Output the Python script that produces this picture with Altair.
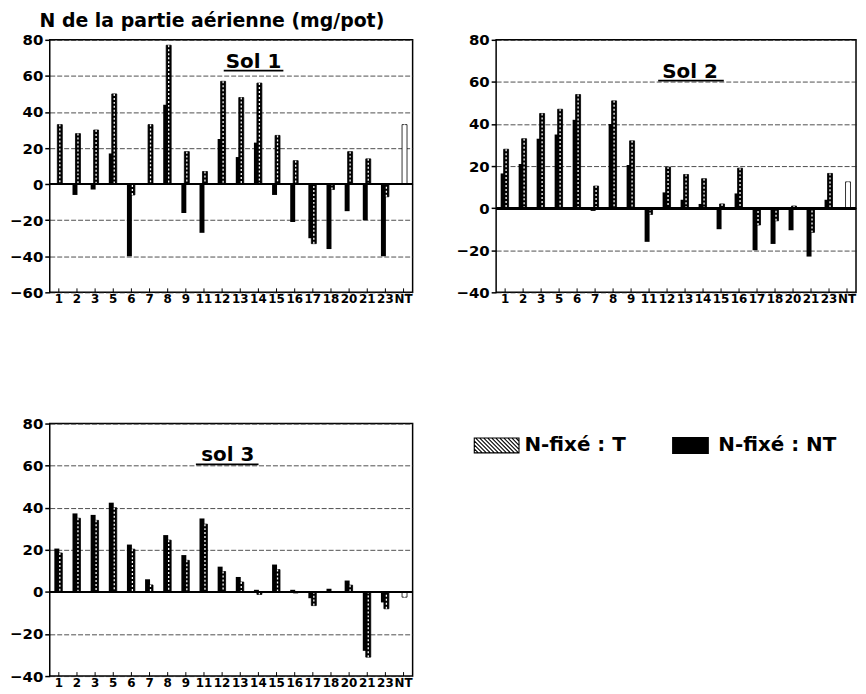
import altair as alt
import pandas as pd

categories = ["1", "2", "3", "5", "6", "7", "8", "9", "11", "12", "13", "14",
              "15", "16", "17", "18", "20", "21", "23", "NT"]

sol1_T = [33, 28, 30, 50, -6, 33, 77, 18, 7, 57, 48, 56, 27, 13, -33, -3, 18, 14, -7, 33]
sol1_NT = [0, -6, -3, 17, -40, 0, 44, -16, -27, 25, 15, 23, -6, -21, -30, -36, -15, -20, -40, 0]

sol2_T = [28, 33, 45, 47, 54, 10.5, 51, 32, -3, 19.5, 16, 14, 2, 19, -8, -6, 1, -11.5, 16.5, 12.5]
sol2_NT = [16.5, 21, 33, 35, 42, -1.3, 40, 20.5, -16, 7.5, 4, 2, -10, 7, -20, -17, -10.5, -23, 4, 0]

sol3_T = [18.5, 35, 34, 40, 20.3, 3.3, 24.6, 15, 32.2, 9.7, 4.7, -1.2, 10.6, -0.5, -6.5, 0, 3.2, -31, -8, -2.5]
sol3_NT = [20.6, 37.3, 36.6, 42.4, 22.5, 6, 27, 17.5, 34.9, 12, 7.1, 1, 13, 1, -3, 1.5, 5.4, -28, -5, 0]

legend_labels = ["N-fixé : T", "N-fixé : NT"]
main_title = "N de la partie aérienne (mg/pot)"

FONT = "DejaVu Sans"
W, H = 365, 254


def panel(T, NT, title, ymin, width, tx, ty, ux1, ux2):
    df = pd.DataFrame({"cat": categories, "T": T, "NT": NT, "zero": [0] * len(categories)})
    x = alt.X("cat:N", sort=categories,
              scale=alt.Scale(type="band", paddingInner=0, paddingOuter=0),
              axis=alt.Axis(title=None, labelAngle=0, ticks=False, domain=False, grid=False,
                            labelFont=FONT, labelFontSize=12, labelFontWeight="bold",
                            labelPadding=1, labelOverlap=False, labelColor="black"))
    yscale = alt.Scale(domain=[ymin, 80], nice=False)
    yaxis = alt.Axis(values=list(range(ymin, 81, 20)), title=None, grid=True,
                     gridColor="#222", gridDash=[5, 2], gridWidth=1, gridOpacity=0.8,
                     tickSize=5, tickColor="black", tickWidth=1.5, domain=False,
                     labelFont=FONT, labelFontSize=15, labelFontWeight="bold",
                     labelPadding=2, labelColor="black", labelOverlap=False,
                     labelFlush=False)
    base = alt.Chart(df)
    nt = base.mark_bar(width=5, xOffset=-2, color="black").encode(
        x=x, y=alt.Y("NT:Q", scale=yscale, axis=yaxis), y2=alt.Y2("zero"))
    tb = base.mark_bar(width=5, xOffset=1, stroke="black", strokeWidth=0.8).encode(
        x=x, y=alt.Y("T:Q", scale=yscale, axis=yaxis), y2=alt.Y2("zero"),
        fill=alt.condition(alt.datum.cat == "NT", alt.value("white"), alt.value("black")))
    dash = base.mark_rule(xOffset=1, color="white", strokeDash=[2, 2], strokeWidth=1.3).encode(
        x=x, y=alt.Y("T:Q", scale=yscale, axis=yaxis), y2=alt.Y2("zero"))
    zero = base.mark_rule(color="black", strokeWidth=2).encode(
        y=alt.Y(datum=0, scale=yscale, axis=yaxis))
    ticks = base.mark_rule(color="black", strokeWidth=1).encode(
        x=x, y=alt.value(H), y2=alt.value(H - 4))
    tdf = pd.DataFrame({"t": [title]})
    ttxt = alt.Chart(tdf).mark_text(font=FONT, fontSize=20, fontWeight="bold", align="center",
                                    baseline="alphabetic", color="black").encode(
        text="t:N", x=alt.value(tx), y=alt.value(ty))
    ul = alt.Chart(tdf).mark_rule(color="black", strokeWidth=1.8).encode(
        x=alt.value(ux1), x2=alt.value(ux2), y=alt.value(ty + 3))
    return alt.layer(nt, tb, dash, zero, ticks, ttxt, ul).properties(width=width, height=H)


p1 = panel(sol1_T, sol1_NT, "Sol 1", -60, W, 205, 28, 175, 235)
p2 = panel(sol2_T, sol2_NT, "Sol 2", -40, 362, 195, 38, 163, 229)
p3 = panel(sol3_T, sol3_NT, "sol 3", -40, W, 179, 38, 147, 210)


def hatch_path(h, step):
    parts = ["M-1,%.3fL1,%.3fL1,%.3fL-1,%.3fZ" % (-h, -h, h, h)]
    c = -1 - 2 * h
    while c < 1:
        y0 = max(-h, -1 - c - h)
        y1 = min(h, 1 - c - h)
        if y1 > y0:
            parts.append("M%.3f,%.3fL%.3f,%.3f" % (c + y0 + h, y0, c + y1 + h, y1))
        c += step
    return "".join(parts)


ldf = pd.DataFrame({"label": legend_labels})
lx = alt.X("label:N", sort=legend_labels, axis=None, scale=alt.Scale(type="point", padding=0.177))
sw_t = alt.Chart(ldf).transform_filter(alt.datum.label == legend_labels[0]).mark_point(
    shape=hatch_path(0.333, 0.18), size=2025, filled=False, color="black",
    strokeWidth=1.1, opacity=1).encode(x=lx)
sw_nt = alt.Chart(ldf).transform_filter(alt.datum.label == legend_labels[1]).mark_point(
    shape="M-1,-0.46L1,-0.46L1,0.46L-1,0.46Z", size=1369, filled=True, color="black",
    opacity=1).encode(x=lx)
ltxt = alt.Chart(ldf).mark_text(align="left", dx=28, font=FONT, fontSize=20, fontWeight="bold",
                                color="black").encode(x=lx, text="label:N")
leg = alt.layer(sw_t, sw_nt, ltxt).properties(
    width=264, height=44, view=alt.ViewBackground(stroke="transparent"))

top = alt.hconcat(p1, p2, spacing=40)
bottom = alt.hconcat(p3, leg, spacing=47)
chart = alt.vconcat(top, bottom, spacing=111).properties(
    title=alt.Title(main_title, anchor="start", font=FONT, fontSize=19, fontWeight="bold",
                    color="black", dx=31, dy=3, offset=4),
    padding={"left": 0, "top": 2, "right": 0, "bottom": 0},
).configure_view(stroke="black", strokeWidth=1.5)

chart.save("out.html", embed_options={"renderer": "svg", "actions": False})
